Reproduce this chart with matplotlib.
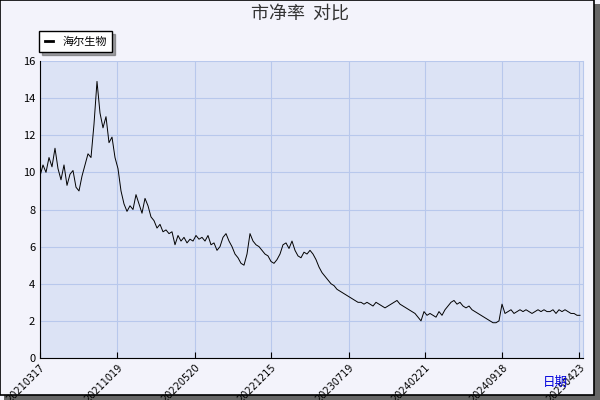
import matplotlib
matplotlib.use("Agg")
import matplotlib.pyplot as plt
from matplotlib.patches import Rectangle

plt.rcParams['font.family'] = ['Noto Sans CJK SC', 'DejaVu Sans']

tick_labels = ["20210317", "20211019", "20220520", "20221215",
               "20230719", "20240221", "20240918", "20250423"]
tick_pos = [0, 25.7, 51.7, 77, 103, 128.3, 154, 179.7]

pb = [9.8, 10.4, 10.0, 10.8, 10.3, 11.3, 10.2, 9.6, 10.4, 9.3,
      9.9, 10.1, 9.2, 9.0, 9.8, 10.4, 11.0, 10.8, 12.6, 14.9,
      13.2, 12.4, 13.0, 11.6, 11.9, 10.8, 10.2, 9.0, 8.3, 7.9,
      8.2, 8.0, 8.8, 8.3, 7.8, 8.6, 8.2, 7.6, 7.4, 7.0,
      7.2, 6.8, 6.9, 6.7, 6.8, 6.1, 6.6, 6.3, 6.5, 6.2,
      6.4, 6.3, 6.6, 6.4, 6.5, 6.3, 6.6, 6.1, 6.2, 5.8,
      6.0, 6.5, 6.7, 6.3, 6.0, 5.6, 5.4, 5.1, 5.0, 5.6,
      6.7, 6.3, 6.1, 6.0, 5.8, 5.6, 5.5, 5.2, 5.1, 5.3,
      5.6, 6.1, 6.2, 5.9, 6.3, 5.8, 5.5, 5.4, 5.7, 5.6,
      5.8, 5.6, 5.3, 4.9, 4.6, 4.4, 4.2, 4.0, 3.9, 3.7,
      3.6, 3.5, 3.4, 3.3, 3.2, 3.1, 3.0, 3.0, 2.9, 3.0,
      2.9, 2.8, 3.0, 2.9, 2.8, 2.7, 2.8, 2.9, 3.0, 3.1,
      2.9, 2.8, 2.7, 2.6, 2.5, 2.4, 2.2, 2.0, 2.5, 2.3,
      2.4, 2.3, 2.2, 2.5, 2.3, 2.6, 2.8, 3.0, 3.1, 2.9,
      3.0, 2.8, 2.7, 2.8, 2.6, 2.5, 2.4, 2.3, 2.2, 2.1,
      2.0, 1.9, 1.9, 2.0, 2.9, 2.4, 2.5, 2.6, 2.4, 2.5,
      2.6, 2.5, 2.6, 2.5, 2.4, 2.5, 2.6, 2.5, 2.6, 2.5,
      2.5, 2.6, 2.4, 2.6, 2.5, 2.6, 2.5, 2.4, 2.4, 2.3, 2.3]

fig = plt.figure(figsize=(6, 4), dpi=100, facecolor="#f3f3fb")
# outer frame with shadow
fig.patches.append(Rectangle((0.006, 0.0), 0.994, 0.99, transform=fig.transFigure,
                             facecolor="#666666", edgecolor="none", zorder=-2))
fig.patches.append(Rectangle((0.0, 0.012), 0.99, 0.988, transform=fig.transFigure,
                             facecolor="#f3f3fb", edgecolor="black", lw=1.2, zorder=-1))

ax = fig.add_axes([40/600, 42/400, 543/600, 297/400], facecolor="#dce3f5")
ax.plot(range(len(pb)), pb, color="black", lw=0.7, label="海尔生物")
ax.set_xlim(0, 181)
ax.set_ylim(0, 16)
ax.set_yticks(range(0, 17, 2))
ax.set_xticks(tick_pos)
ax.set_xticklabels(tick_labels, rotation=45, ha="right", rotation_mode="anchor",
                   fontsize=7, family="DejaVu Sans")
ax.tick_params(axis="y", labelsize=8, length=0)
ax.tick_params(axis="x", length=4, direction="in", pad=3)
ax.grid(True, color="#b8c8ec", lw=0.8)
ax.spines["top"].set_visible(False)
ax.spines["right"].set_color("#b8c8ec")

fig.text(0.5, 0.965, "市净率  对比", ha="center", va="center", fontsize=13, color="#333333")
fig.text(0.925, 0.045, "日期", ha="center", va="center", fontsize=9, color="#0000dd")
leg = ax.legend(loc="lower left", bbox_to_anchor=(-0.012, 1.01), fontsize=8,
                frameon=True, fancybox=False, shadow=True, handlelength=0.8,
                borderpad=0.5)
leg.get_frame().set_edgecolor("black")
for h in leg.get_lines():
    h.set_linewidth(2)

fig.savefig("out.png", dpi=100, facecolor=fig.get_facecolor())
